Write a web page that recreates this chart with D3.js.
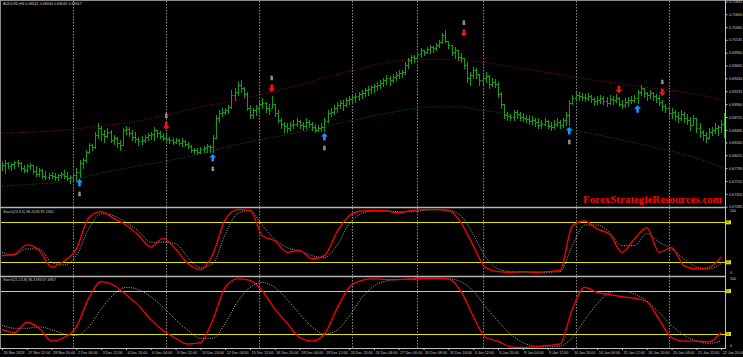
<!DOCTYPE html>
<html>
<head>
<meta charset="utf-8">
<script src="https://cdn.jsdelivr.net/npm/d3@7"></script>
<style>
  body { margin: 0; background: #000; }
  svg { display: block; }
</style>
</head>
<body>
<div id="chart-area"></div>
<script>
/*
*    AUDUSD H4 bar chart with two stochastic windows
*/
const width = 743;
const height = 357;

// price bars, in 1/10000 (pips)
const highs = [6790,6794,6790,6788,6792,6794,6790,6785,6786,6788,
  6785,6783,6779,6777,6774,6770,6772,6770,6768,6772,
  6776,6772,6766,6772,6779,6794,6797,6812,6825,6823,
  6845,6861,6856,6849,6852,6849,6839,6836,6830,6852,
  6856,6854,6849,6845,6836,6838,6839,6843,6845,6854,
  6849,6847,6843,6841,6836,6834,6834,6832,6834,6830,
  6827,6821,6816,6816,6818,6819,6823,6821,6839,6876,
  6885,6889,6889,6894,6922,6925,6936,6940,6927,6918,
  6894,6889,6894,6903,6907,6900,6896,6911,6896,6885,
  6871,6863,6861,6863,6867,6871,6867,6863,6871,6867,
  6863,6860,6858,6861,6871,6885,6889,6894,6900,6903,
  6903,6907,6911,6913,6916,6918,6922,6925,6929,6931,
  6933,6936,6940,6944,6949,6947,6951,6955,6958,6958,
  6973,6980,6986,6986,6991,6998,6995,7000,7004,7002,
  7008,7013,7026,7031,7012,7004,7000,6995,6989,6980,
  6973,6955,6964,6962,6951,6949,6955,6949,6944,6942,
  6936,6918,6896,6882,6878,6885,6885,6882,6880,6876,
  6876,6874,6871,6871,6867,6871,6867,6863,6867,6871,
  6867,6871,6882,6903,6913,6918,6918,6916,6914,6916,
  6913,6909,6911,6913,6911,6909,6913,6911,6914,6909,
  6903,6907,6909,6911,6913,6922,6931,6925,6918,6922,
  6918,6914,6913,6903,6896,6893,6889,6885,6882,6885,
  6882,6878,6872,6876,6871,6861,6849,6845,6852,6854,
  6861,6858,6867,6880];
const lows = [6776,6770,6779,6776,6779,6783,6776,6772,6772,6777,
  6770,6765,6765,6761,6759,6759,6761,6757,6757,6761,
  6761,6757,6752,6754,6757,6763,6779,6790,6807,6812,
  6816,6834,6830,6827,6836,6827,6823,6818,6812,6821,
  6841,6838,6830,6827,6821,6823,6827,6830,6832,6830,
  6836,6834,6830,6827,6825,6823,6825,6821,6819,6819,
  6816,6808,6807,6805,6807,6808,6808,6808,6808,6834,
  6863,6874,6878,6880,6889,6903,6913,6918,6909,6885,
  6871,6871,6876,6882,6889,6882,6878,6889,6874,6863,
  6852,6845,6845,6849,6852,6856,6852,6849,6852,6854,
  6849,6845,6847,6847,6847,6863,6874,6878,6882,6889,
  6885,6893,6896,6898,6900,6903,6907,6911,6913,6916,
  6918,6922,6925,6929,6933,6931,6936,6940,6944,6945,
  6951,6962,6971,6973,6980,6982,6986,6989,6989,6991,
  6995,7000,7008,7010,6998,6986,6980,6977,6973,6962,
  6936,6931,6944,6944,6931,6933,6936,6925,6929,6927,
  6909,6889,6871,6867,6867,6867,6871,6867,6865,6863,
  6860,6860,6856,6852,6852,6858,6852,6849,6852,6856,
  6852,6854,6858,6858,6896,6903,6903,6903,6902,6903,
  6900,6894,6896,6898,6896,6893,6896,6896,6900,6893,
  6889,6891,6893,6898,6900,6898,6913,6909,6903,6907,
  6903,6900,6894,6885,6882,6874,6871,6867,6863,6867,
  6863,6860,6849,6858,6845,6836,6830,6827,6834,6839,
  6843,6839,6845,6836];
const closes = [6785,6788,6783,6786,6790,6788,6779,6776,6783,6785,
  6774,6768,6776,6765,6763,6766,6765,6763,6766,6768,
  6765,6761,6763,6766,6772,6788,6794,6808,6821,6818,
  6839,6852,6841,6838,6845,6830,6834,6825,6821,6849,
  6850,6843,6836,6832,6829,6830,6836,6839,6841,6849,
  6843,6838,6834,6832,6830,6827,6830,6825,6829,6823,
  6819,6812,6812,6808,6814,6816,6819,6818,6834,6871,
  6880,6882,6885,6891,6913,6918,6931,6925,6914,6889,
  6876,6885,6889,6896,6898,6889,6885,6896,6880,6867,
  6860,6856,6852,6858,6860,6865,6858,6856,6863,6860,
  6854,6849,6852,6854,6865,6880,6882,6889,6894,6898,
  6894,6903,6905,6909,6911,6914,6916,6922,6924,6927,
  6929,6931,6935,6940,6944,6940,6945,6949,6953,6955,
  6967,6977,6982,6980,6987,6995,6991,6997,7000,6998,
  7004,7009,7022,7012,7004,6991,6995,6982,6980,6967,
  6944,6949,6958,6951,6940,6944,6947,6933,6936,6933,
  6914,6896,6876,6874,6872,6882,6878,6872,6871,6869,
  6865,6867,6863,6858,6860,6865,6856,6854,6860,6863,
  6858,6867,6876,6898,6907,6913,6911,6909,6907,6911,
  6905,6902,6903,6907,6902,6898,6905,6903,6907,6896,
  6894,6900,6903,6903,6907,6918,6925,6916,6913,6916,
  6911,6907,6900,6893,6889,6880,6882,6874,6871,6878,
  6871,6867,6858,6871,6852,6845,6839,6834,6845,6849,
  6852,6854,6860,6872];

// moving averages (bar index, pips)
const maRedBars = [0,11,21,32,42,53,64,75,80,96,112,128,139,146,154,171,193,210,222,233];
const maRedVals = [6843,6845,6849,6856,6863,6876,6891,6902,6909,6931,6956,6975,6978,6977,6973,6958,6938,6925,6916,6903];
const maGreenBars = [0,11,21,32,42,53,64,75,80,96,112,128,139,148,154,161,167,180,193,209,222,233];
const maGreenVals = [6746,6750,6755,6770,6781,6792,6805,6821,6827,6845,6865,6883,6891,6891,6885,6880,6871,6854,6839,6819,6801,6779];

// signal arrows (bar index, pips at arrow tip)
const upBars = [25,68,104,183,205];
const upPrices = [6759,6805,6843,6854,6894];
const upMarked = [1,1,1,1,0];
const downBars = [53,87,149,199,213];
const downPrices = [6849,6918,7019,6916,6911];
const downMarked = [1,1,1,0,1];

// stochastics, one reading every 4 bars
const stochStep = 4;
const stochMain1 = [30,32,46,38,13,22,40,87,96,86,76,61,43,56,40,18,9,32,84,99,98,60,52,35,38,25,30,65,90,97,98,97,94,98,99,99,98,80,45,12,6,5,6,5,6,8,75,82,70,62,35,55,72,35,42,15,10,12,28];
const stochSignal1 = [35,31,40,40,20,16,30,70,93,90,80,67,50,50,48,27,12,18,62,93,98,75,55,42,37,30,27,45,78,93,97,97,96,96,98,99,98,90,62,28,10,6,5,5,5,6,45,76,76,65,45,45,63,50,40,25,13,10,18];
const stochMain2 = [26,22,36,28,10,15,30,70,93,88,75,60,40,25,14,6,8,40,85,97,95,80,55,35,15,10,20,55,85,95,97,96,96,97,98,98,97,80,45,15,10,2,1,2,4,6,55,85,78,75,72,70,65,40,15,10,10,9,22];
const stochSignal2 = [32,28,28,30,26,20,18,30,55,75,85,82,72,57,40,25,14,14,35,65,85,92,85,68,48,30,20,25,45,70,87,94,96,96,97,97,97,93,80,58,38,20,8,3,2,3,15,40,62,78,80,76,66,50,32,18,10,7,10];
const stochLevels = [80, 20];

const priceTicks = ["0.70835","0.70600","0.70365","0.70135","0.69900","0.69665","0.69430","0.69195","0.68960","0.68725","0.68490","0.68260","0.68025","0.67790","0.67555","0.67320","0.67085"];
const timeLabels = ["26 Nov 2019","27 Nov 12:00","28 Nov 20:00","2 Dec 04:00","3 Dec 12:00","4 Dec 20:00","6 Dec 04:00","9 Dec 12:00","10 Dec 20:00","12 Dec 04:00","13 Dec 12:00","16 Dec 20:00","18 Dec 04:00","19 Dec 12:00","20 Dec 20:00","24 Dec 04:00","27 Dec 00:00","30 Dec 08:00","31 Dec 16:00","3 Jan 12:00","6 Jan 20:00","8 Jan 04:00","9 Jan 12:00","10 Jan 20:00","14 Jan 04:00","15 Jan 12:00","16 Jan 20:00","20 Jan 04:00","21 Jan 12:00","22 Jan 20:00"];
const timeStep = 8;
const weekBars = [23,53,83,113,134,155,185,215];

const headerText = "AUDUSD,H4  0.68541 0.68440 0.68042 0.68347";
const stochText1 = "Stoch(13,3,3) 96.2026 95.2361";
const stochText2 = "Stoch(21,13,8) 96.3783 67.6957";

// layout
const plotLeft = 1, plotRight = 725;
const mainTop = 1, mainBottom = 207;
const s1Top = 208, s1Bottom = 276;
const s2Top = 277, s2Bottom = 348;
const font = "'Liberation Sans', Arial, sans-serif";
const fs = "3.7px";
const textColor = "#c8c8c8";

const svg = d3.select("#chart-area")
    .append("svg")
    .attr("width", width)
    .attr("height", height)
    .style("background", "#000");

//Scales
const x = d3.scaleLinear()
    .domain([0, highs.length - 1])
    .range([2, 2 + (highs.length - 1) * 3.1]);

const yPrice = d3.scaleLinear()
    .domain([0.67085, 0.70835])
    .range([206.7, 1.5]);

const yS1 = d3.scaleLinear().domain([0, 100]).range([275.6, 209]);
const yS2 = d3.scaleLinear().domain([0, 100]).range([348.3, 276.7]);

//Clip areas for the three windows
const defs = svg.append("defs");
[["clipMain", mainTop, mainBottom], ["clipS1", s1Top, s1Bottom], ["clipS2", s2Top, s2Bottom]]
    .forEach(c => {
        defs.append("clipPath").attr("id", c[0])
            .append("rect")
            .attr("x", plotLeft).attr("y", c[1])
            .attr("width", plotRight - plotLeft).attr("height", c[2] - c[1]);
    });

//Week separators
svg.append("g").selectAll("line")
    .data(weekBars)
    .enter().append("line")
    .attr("x1", d => Math.round(x(d)) + 0.5)
    .attr("x2", d => Math.round(x(d)) + 0.5)
    .attr("y1", 1)
    .attr("y2", s2Bottom)
    .attr("stroke", "#8a8a8a")
    .attr("stroke-width", 1)
    .attr("stroke-dasharray", "1.5,1.5");

const gMain = svg.append("g").attr("clip-path", "url(#clipMain)");

//Moving averages
const maLine = bars => d3.line()
    .x((d, i) => x(bars[i]))
    .y(d => yPrice(d / 10000))
    .curve(d3.curveMonotoneX);

gMain.append("path")
    .datum(maRedVals)
    .attr("d", maLine(maRedBars))
    .attr("fill", "none")
    .attr("stroke", "#8b0a0a")
    .attr("stroke-width", 1)
    .attr("stroke-dasharray", "1,1.5");

gMain.append("path")
    .datum(maGreenVals)
    .attr("d", maLine(maGreenBars))
    .attr("fill", "none")
    .attr("stroke", "#0b5e0b")
    .attr("stroke-width", 1)
    .attr("stroke-dasharray", "1,1.5");

//Price bars
const py = v => Math.round(yPrice(v / 10000));
gMain.selectAll("path.bar")
    .data(highs)
    .enter().append("path")
    .attr("class", "bar")
    .attr("d", (h, i) => {
        const px = Math.round(x(i));
        const yh = py(h), yl = py(lows[i]) + 1;
        const clamp = v => Math.max(yh, Math.min(yl - 1, v));
        const yc = clamp(py(closes[i]));
        let p = `M${px + 0.5},${yh}V${yl}M${px + 1},${yc + 0.5}H${px + 2}`;
        if (i > 0) {
            const yo = clamp(py(closes[i - 1]));
            p += `M${px - 1},${yo + 0.5}H${px}`;
        }
        return p;
    })
    .attr("fill", "none")
    .attr("stroke", "#12a012")
    .attr("stroke-width", 1);

//Arrows and their markers
const upArrow = "M0,0L3.5,3.5L1.3,3.5L1.3,7.5L-1.3,7.5L-1.3,3.5L-3.5,3.5Z";
const downArrow = "M0,0L3.5,-3.5L1.3,-3.5L1.3,-7.5L-1.3,-7.5L-1.3,-3.5L-3.5,-3.5Z";

function marker(g, cx, cy) {
    g.append("circle").attr("cx", cx).attr("cy", cy - 1.2).attr("r", 1.3).attr("fill", "#9a9a9a");
    g.append("rect").attr("x", cx - 1.4).attr("y", cy - 0.2).attr("width", 2.8).attr("height", 2.4).attr("fill", "#8a8a8a");
}

upBars.forEach((b, i) => {
    const ax = x(b), ay = yPrice(upPrices[i] / 10000);
    gMain.append("path").attr("d", upArrow)
        .attr("transform", `translate(${ax},${ay})`)
        .attr("fill", "#1e90ff");
    if (upMarked[i]) marker(gMain, ax, ay + 15);
});

downBars.forEach((b, i) => {
    const ax = x(b), ay = yPrice(downPrices[i] / 10000);
    gMain.append("path").attr("d", downArrow)
        .attr("transform", `translate(${ax},${ay})`)
        .attr("fill", "#ff1010");
    if (downMarked[i]) marker(gMain, ax, ay - 14);
});

//Stochastic windows
function stochWindow(clip, yS, main, signal, label) {
    const g = svg.append("g").attr("clip-path", `url(#${clip})`);

    g.selectAll("line.level")
        .data(stochLevels)
        .enter().append("line")
        .attr("x1", plotLeft).attr("x2", plotRight)
        .attr("y1", d => Math.round(yS(d)) + 0.5)
        .attr("y2", d => Math.round(yS(d)) + 0.5)
        .attr("stroke", "#e2e200")
        .attr("stroke-width", 1);

    const line = d3.line()
        .x((d, i) => x(i * stochStep))
        .y(d => yS(d))
        .curve(d3.curveMonotoneX);

    g.append("path").datum(signal)
        .attr("d", line)
        .attr("fill", "none")
        .attr("stroke", "#b8b8b8")
        .attr("stroke-width", 0.9)
        .attr("stroke-dasharray", "1,1.3");

    g.append("path").datum(main)
        .attr("d", line)
        .attr("fill", "none")
        .attr("stroke", "#ff0000")
        .attr("stroke-width", 1.3);

    svg.append("text")
        .attr("x", 3).attr("y", yS(100) + 4)
        .attr("font-family", font).attr("font-size", fs)
        .attr("fill", textColor)
        .text(label);

    //Axis labels and level boxes
    svg.append("text").attr("x", 730).attr("y", yS(100) + 3.2)
        .attr("font-family", font).attr("font-size", fs).attr("fill", textColor).text("100");
    svg.append("text").attr("x", 730).attr("y", yS(0) - 1.5)
        .attr("font-family", font).attr("font-size", fs).attr("fill", textColor).text("0");

    stochLevels.forEach(l => {
        svg.append("rect")
            .attr("x", plotRight).attr("y", yS(l) - 2)
            .attr("width", 6).attr("height", 4)
            .attr("fill", "#e2e200");
        svg.append("text")
            .attr("x", plotRight + 1).attr("y", yS(l) + 1)
            .attr("font-family", font).attr("font-size", "2.8px")
            .attr("fill", "#404000").text(l);
    });
}

stochWindow("clipS1", yS1, stochMain1, stochSignal1, stochText1);
stochWindow("clipS2", yS2, stochMain2, stochSignal2, stochText2);

//Frame and separators
svg.append("line").attr("x1", 0).attr("x2", width).attr("y1", 0.5).attr("y2", 0.5)
    .attr("stroke", "#8a8a8a");
svg.append("line").attr("x1", 0.5).attr("x2", 0.5).attr("y1", 0).attr("y2", s2Bottom)
    .attr("stroke", "#8a8a8a");
[mainBottom + 0.5, s1Bottom + 0.5].forEach(yy => {
    svg.append("line").attr("x1", 0).attr("x2", plotRight)
        .attr("y1", yy).attr("y2", yy)
        .attr("stroke", "#b4b4b4").attr("stroke-width", 1.6);
});
svg.append("line").attr("x1", plotRight + 0.5).attr("x2", plotRight + 0.5)
    .attr("y1", 0).attr("y2", s2Bottom + 1)
    .attr("stroke", "#c0c0c0");
svg.append("line").attr("x1", 0).attr("x2", plotRight)
    .attr("y1", s2Bottom + 0.5).attr("y2", s2Bottom + 0.5)
    .attr("stroke", "#c0c0c0");

//Price axis
const yAxis = d3.axisRight(yPrice)
    .tickValues(priceTicks.map(Number))
    .tickFormat((d, i) => priceTicks[i])
    .tickSize(2.5)
    .tickPadding(1.5);

const yAxisGroup = svg.append("g")
    .attr("transform", `translate(${plotRight},0)`)
    .call(yAxis);
yAxisGroup.select(".domain").remove();
yAxisGroup.selectAll("line").attr("stroke", "#c0c0c0");
yAxisGroup.selectAll("text")
    .attr("fill", textColor)
    .attr("font-family", font)
    .attr("font-size", fs);

//Time axis
const xAxis = d3.axisBottom(x)
    .tickValues(timeLabels.map((d, i) => i * timeStep))
    .tickFormat((d, i) => timeLabels[i])
    .tickSize(2)
    .tickPadding(1);

const xAxisGroup = svg.append("g")
    .attr("transform", `translate(0,${s2Bottom})`)
    .call(xAxis);
xAxisGroup.select(".domain").remove();
xAxisGroup.selectAll("line").attr("stroke", "#c0c0c0");
xAxisGroup.selectAll("text")
    .attr("fill", textColor)
    .attr("font-family", font)
    .attr("font-size", fs)
    .attr("text-anchor", "start")
    .attr("dx", 1);

//Header and watermark
svg.append("text")
    .attr("x", 3).attr("y", 5)
    .attr("font-family", font).attr("font-size", fs)
    .attr("fill", textColor)
    .text(headerText);

svg.append("text")
    .attr("x", 583).attr("y", 202.5)
    .attr("font-family", "'Liberation Serif', 'Times New Roman', serif")
    .attr("font-weight", "bold")
    .attr("font-size", "11px")
    .attr("fill", "#ff0000")
    .attr("textLength", 139)
    .attr("lengthAdjust", "spacingAndGlyphs")
    .text("ForexStrategieResources.com");
</script>
</body>
</html>
